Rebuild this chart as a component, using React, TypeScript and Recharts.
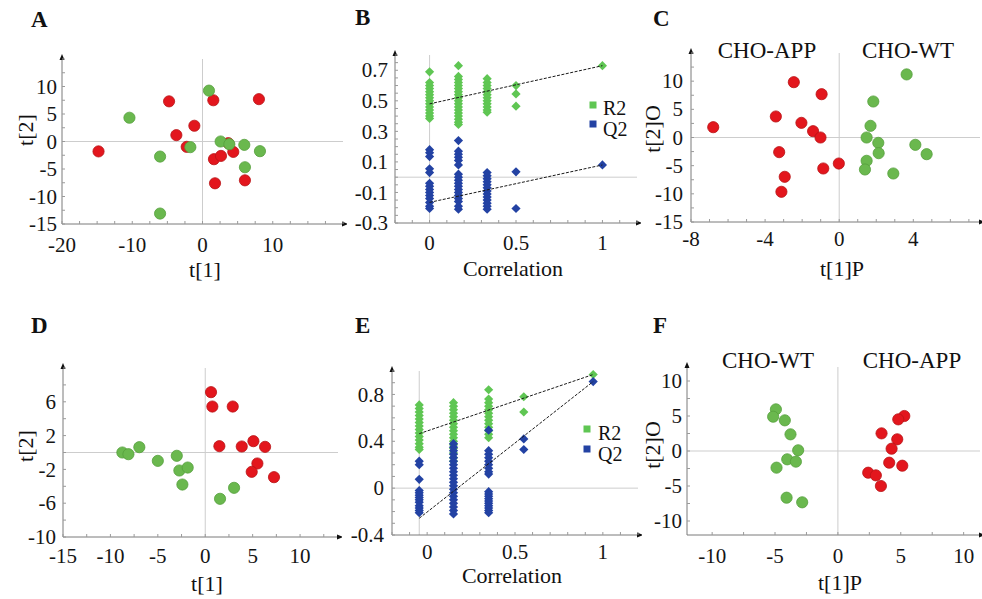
import React from 'react';
import { ReferenceDot, ReferenceLine, Scatter, ScatterChart, XAxis, YAxis } from 'recharts';

const FONT = '"Liberation Serif", "DejaVu Serif", "Times New Roman", serif';
const RED = '#e3161d';
const RED_EDGE = '#b81416';
const GREEN = '#6ab84e';
const GREEN_EDGE = '#56a03c';
const R2_GREEN = '#5fc653';
const Q2_BLUE = '#2342a3';

type Pt = { x: number; y: number };

// A - PCA scores, all samples
const scoresA_APP: Pt[] = [
    { x: -14.8, y: -1.8 }, { x: -4.76, y: 7.3 }, { x: 1.54, y: 7.5 }, { x: 8.03, y: 7.7 },
    { x: -1.16, y: 2.86 }, { x: -3.72, y: 1.16 }, { x: -2.25, y: -0.97 }, { x: 1.63, y: -3.22 },
    { x: 2.63, y: -2.62 }, { x: 4.38, y: -1.89 }, { x: 1.78, y: -7.6 }, { x: 6.04, y: -7.06 },
    { x: 3.67, y: -0.3 },
];
const scoresA_WT: Pt[] = [
    { x: -10.4, y: 4.32 }, { x: 0.92, y: 9.25 }, { x: -6.04, y: -2.74 }, { x: -6.04, y: -13.1 },
    { x: -1.73, y: -1.03 }, { x: 2.58, y: 0 }, { x: 3.82, y: -0.49 }, { x: 5.95, y: -0.61 },
    { x: 8.18, y: -1.76 }, { x: 6.04, y: -4.68 },
];
const ticksA_x = [-20, -10, 0, 10];
const ticksA_y = [-15, -10, -5, 0, 5, 10];

// B - permutation test, R2 and Q2 per correlation column
const permB_x = [0, 0.167, 0.333, 0.5, 1];
const permB_R2 = [
    [0.69, 0.62, 0.6, 0.58, 0.56, 0.54, 0.52, 0.5, 0.48, 0.46, 0.44, 0.42, 0.4, 0.385],
    [0.73, 0.66, 0.64, 0.62, 0.6, 0.58, 0.56, 0.54, 0.52, 0.5, 0.48, 0.46, 0.44, 0.42, 0.4, 0.38, 0.36, 0.345],
    [0.645, 0.62, 0.6, 0.58, 0.56, 0.54, 0.52, 0.5, 0.48, 0.46, 0.44, 0.425],
    [0.6, 0.545, 0.465],
    [0.73],
];
const permB_Q2 = [
    [0.18, 0.16, 0.135, 0.055, 0.03, -0.04, -0.06, -0.08, -0.1, -0.12, -0.14, -0.165, -0.19, -0.205],
    [0.24, 0.17, 0.15, 0.13, 0.11, 0.08, 0.02, 0, -0.02, -0.04, -0.06, -0.08, -0.1, -0.12, -0.14, -0.16, -0.19, -0.21],
    [0.03, 0.01, -0.01, -0.03, -0.05, -0.07, -0.09, -0.11, -0.13, -0.15, -0.17, -0.19, -0.21],
    [0.035, -0.205],
    [0.08],
];
const fitB_R2: Pt[] = [{ x: 0, y: 0.48 }, { x: 1, y: 0.73 }];
const fitB_Q2: Pt[] = [{ x: 0, y: -0.165 }, { x: 1, y: 0.08 }];
const ticksB_x = [0, 0.5, 1];
const ticksB_y = [-0.3, -0.1, 0.1, 0.3, 0.5, 0.7];

// C - OPLS-DA scores
const scoresC_APP: Pt[] = [
    { x: -6.8, y: 1.83 }, { x: -2.45, y: 9.82 }, { x: -0.95, y: 7.69 }, { x: -3.42, y: 3.73 },
    { x: -2.04, y: 2.6 }, { x: -1.41, y: 1.12 }, { x: -1.01, y: 0 }, { x: -3.24, y: -2.6 },
    { x: -2.94, y: -6.98 }, { x: -3.12, y: -9.64 }, { x: -0.86, y: -5.5 }, { x: -0.02, y: -4.62 },
];
const scoresC_WT: Pt[] = [
    { x: 3.64, y: 11.2 }, { x: 1.84, y: 6.39 }, { x: 1.69, y: 2.07 }, { x: 1.48, y: 0 },
    { x: 2.11, y: -0.95 }, { x: 2.13, y: -2.78 }, { x: 4.11, y: -1.3 }, { x: 4.72, y: -2.96 },
    { x: 1.48, y: -4.14 }, { x: 1.39, y: -5.68 }, { x: 2.92, y: -6.39 },
];
const ticksC_x = [-8, -4, 0, 4];
const ticksC_y = [-15, -10, -5, 0, 5, 10];

// D - PCA scores, second set
const scoresD_APP: Pt[] = [
    { x: 0.61, y: 7.14 }, { x: 0.75, y: 5.44 }, { x: 2.9, y: 5.44 }, { x: 1.49, y: 0.75 },
    { x: 3.85, y: 0.71 }, { x: 5.08, y: 1.34 }, { x: 6.31, y: 0.67 }, { x: 5.5, y: -1.3 },
    { x: 4.9, y: -2.29 }, { x: 7.25, y: -2.92 },
];
const scoresD_WT: Pt[] = [
    { x: -8.74, y: 0 }, { x: -8.1, y: -0.2 }, { x: -6.95, y: 0.63 }, { x: -5.0, y: -0.99 },
    { x: -3.0, y: -0.39 }, { x: -2.73, y: -2.13 }, { x: -1.85, y: -1.78 }, { x: -2.41, y: -3.79 },
    { x: 3.04, y: -4.18 }, { x: 1.56, y: -5.48 },
];
const ticksD_x = [-15, -10, -5, 0, 5, 10];
const ticksD_y = [-10, -6, -2, 2, 6];

// E - permutation test, second set
const permE_x = [-0.045, 0.15, 0.35, 0.55, 0.945];
const permE_R2 = [
    [0.71, 0.68, 0.65, 0.62, 0.59, 0.56, 0.53, 0.5, 0.47, 0.44, 0.41, 0.38, 0.35, 0.33],
    [0.73, 0.7, 0.67, 0.64, 0.61, 0.58, 0.55, 0.52, 0.49, 0.46, 0.43, 0.4, 0.37, 0.34, 0.3, 0.26, 0.23],
    [0.84, 0.76, 0.73, 0.7, 0.67, 0.64, 0.61, 0.58, 0.55, 0.52, 0.49, 0.46, 0.43],
    [0.78, 0.65],
    [0.97],
];
const permE_Q2 = [
    [0.23, 0.2, 0.075, -0.02, -0.04, -0.06, -0.08, -0.1, -0.12, -0.15, -0.17, -0.19, -0.21],
    [0.38, 0.35, 0.32, 0.29, 0.26, 0.23, 0.2, 0.17, 0.14, 0.11, 0.08, 0.05, 0.02, -0.01, -0.04, -0.07, -0.1, -0.13, -0.16, -0.19, -0.22],
    [0.495, 0.32, 0.29, 0.26, 0.23, 0.2, 0.17, 0.14, 0.12, -0.03, -0.05, -0.07, -0.09, -0.11, -0.13, -0.15, -0.17, -0.19, -0.21],
    [0.42, 0.33],
    [0.91],
];
const fitE_R2: Pt[] = [{ x: -0.045, y: 0.465 }, { x: 0.945, y: 0.97 }];
const fitE_Q2: Pt[] = [{ x: -0.045, y: -0.257 }, { x: 0.945, y: 0.91 }];
const ticksE_x = [0, 0.5, 1];
const ticksE_y = [-0.4, 0, 0.4, 0.8];

// F - OPLS-DA scores, second set
const scoresF_WT: Pt[] = [
    { x: -4.93, y: 5.95 }, { x: -5.15, y: 4.9 }, { x: -4.22, y: 4.38 }, { x: -3.77, y: 2.38 },
    { x: -3.16, y: 0.1 }, { x: -4.03, y: -1.19 }, { x: -3.34, y: -1.52 }, { x: -4.88, y: -2.38 },
    { x: -4.08, y: -6.67 }, { x: -2.84, y: -7.33 },
];
const scoresF_APP: Pt[] = [
    { x: 5.28, y: 5.0 }, { x: 4.8, y: 4.52 }, { x: 3.47, y: 2.52 }, { x: 4.72, y: 1.67 },
    { x: 4.27, y: 0.33 }, { x: 4.08, y: -1.67 }, { x: 5.12, y: -2.1 }, { x: 2.41, y: -3.1 },
    { x: 3.02, y: -3.48 }, { x: 3.42, y: -5.0 },
];
const ticksF_x = [-10, -5, 0, 5, 10];
const ticksF_y = [-10, -5, 0, 5, 10];

const columns = (xs: number[], ys: number[][]): Pt[] => xs.flatMap((x, i) => ys[i].map((y) => ({ x, y })));

// major ticks plus small unlabelled ones in between
const withMinor = (domain: number[], step: number, major: number[]) => {
    const out = [...major];
    const start = Math.ceil(domain[0] / step - 1e-9);
    const end = Math.floor(domain[1] / step + 1e-9);
    for (let k = start; k <= end; k++) {
        const v = +(k * step).toFixed(6);
        if (!out.some((m) => Math.abs(m - v) < 1e-6)) out.push(v);
    }
    return out.sort((a, b) => a - b);
};

const isMajor = (major: number[], v: number) => major.some((m) => Math.abs(m - v) < 1e-6);

type SeriesCfg = { data: Pt[]; kind: 'circle' | 'diamond'; fill: string; stroke?: string };

type PanelCfg = {
    left: number;
    top: number;
    width: number;
    height: number;
    xDomain: [number, number];
    yDomain: [number, number];
    xTicks: number[];
    yTicks: number[];
    xMinor: number;
    yMinor: number;
    xZero: number;
    series: SeriesCfg[];
    fits?: Pt[][];
    tickDy: number;
    yGap: number;
};

const Circle = (fill: string, stroke?: string) => (p: any) => (
    <circle cx={p.cx} cy={p.cy} r={5.6} fill={fill} stroke={stroke} strokeWidth={0.8} />
);
const Diamond = (fill: string) => (p: any) => (
    <path d={`M${p.cx},${p.cy - 4.6} L${p.cx + 4.6},${p.cy} L${p.cx},${p.cy + 4.6} L${p.cx - 4.6},${p.cy} Z`} fill={fill} />
);

const YW = 60;
const XH = 40;
const MARGIN = { top: 12, right: 4, bottom: 0, left: 0 };

const Panel = ({ cfg }: { cfg: PanelCfg }) => {
    const { xDomain, yDomain, xTicks, yTicks } = cfg;
    const chartW = MARGIN.left + YW + cfg.width + MARGIN.right;
    const chartH = MARGIN.top + cfg.height + XH + MARGIN.bottom;

    const xTick = (p: any) => {
        const v = p.payload.value;
        return (
            <g>
                <line x1={p.x} x2={p.x} y1={p.y} y2={p.y - 3} stroke="#9a9a9a" />
                {isMajor(xTicks, v) && (
                    <text x={p.x} y={p.y + cfg.tickDy} textAnchor="middle" fontSize={21} fontFamily={FONT} fill="#151515">
                        {v}
                    </text>
                )}
            </g>
        );
    };
    const yTick = (p: any) => {
        const v = p.payload.value;
        return (
            <g>
                <line x1={p.x} x2={p.x + 3} y1={p.y} y2={p.y} stroke="#9a9a9a" />
                {isMajor(yTicks, v) && (
                    <text x={p.x - cfg.yGap} y={p.y} dy="0.34em" textAnchor="end" fontSize={21} fontFamily={FONT} fill="#151515">
                        {v}
                    </text>
                )}
            </g>
        );
    };

    return (
        <div style={{ position: 'absolute', left: cfg.left - YW - MARGIN.left, top: cfg.top - MARGIN.top }}>
            <ScatterChart width={chartW} height={chartH} margin={MARGIN}>
                <XAxis
                    type="number"
                    dataKey="x"
                    domain={xDomain}
                    ticks={withMinor(xDomain, cfg.xMinor, xTicks)}
                    interval={0}
                    tickSize={0}
                    tickMargin={0}
                    tickLine={false}
                    tick={xTick}
                    height={XH}
                    axisLine={{ stroke: '#7a7a7a' }}
                />
                <YAxis
                    type="number"
                    dataKey="y"
                    domain={yDomain}
                    ticks={withMinor(yDomain, cfg.yMinor, yTicks)}
                    interval={0}
                    tickSize={0}
                    tickMargin={0}
                    tickLine={false}
                    tick={yTick}
                    width={YW}
                    axisLine={{ stroke: '#7a7a7a' }}
                />
                <ReferenceLine x={cfg.xZero} stroke="#cdcdcd" />
                <ReferenceLine y={0} stroke="#cdcdcd" />
                {cfg.series.map((s, i) => (
                    <Scatter
                        key={`s-${i}`}
                        data={s.data}
                        isAnimationActive={false}
                        shape={s.kind === 'circle' ? Circle(s.fill, s.stroke) : Diamond(s.fill)}
                    />
                ))}
                {(cfg.fits || []).map((f, i) => (
                    <Scatter
                        key={`f-${i}`}
                        data={f}
                        isAnimationActive={false}
                        line={{ stroke: '#1a1a1a', strokeWidth: 1, strokeDasharray: '3 1.5' }}
                        shape={() => <g />}
                    />
                ))}
                <ReferenceDot
                    x={xDomain[1]}
                    y={yDomain[0]}
                    ifOverflow="visible"
                    shape={(p: any) => (
                        <path d={`M${p.cx + 5},${p.cy} L${p.cx - 1},${p.cy - 2.5} L${p.cx - 1},${p.cy + 2.5} Z`} fill="#111" />
                    )}
                />
                <ReferenceDot
                    x={xDomain[0]}
                    y={yDomain[1]}
                    ifOverflow="visible"
                    shape={(p: any) => (
                        <path d={`M${p.cx},${p.cy - 5} L${p.cx - 2.5},${p.cy + 1} L${p.cx + 2.5},${p.cy + 1} Z`} fill="#111" />
                    )}
                />
            </ScatterChart>
        </div>
    );
};

const panels: PanelCfg[] = [
    {
        left: 62, top: 59, width: 281, height: 165,
        xDomain: [-20, 20], yDomain: [-15, 15], xTicks: ticksA_x, yTicks: ticksA_y, xMinor: 2.5, yMinor: 2.5, xZero: 0,
        series: [
            { data: scoresA_APP, kind: 'circle', fill: RED, stroke: RED_EDGE },
            { data: scoresA_WT, kind: 'circle', fill: GREEN, stroke: GREEN_EDGE },
        ],
        tickDy: 28, yGap: 5,
    },
    {
        left: 395, top: 55, width: 242, height: 168,
        xDomain: [-0.2, 1.2], yDomain: [-0.3, 0.8], xTicks: ticksB_x, yTicks: ticksB_y, xMinor: 0.1, yMinor: 0.05, xZero: 0,
        series: [
            { data: columns(permB_x, permB_R2), kind: 'diamond', fill: R2_GREEN },
            { data: columns(permB_x, permB_Q2), kind: 'diamond', fill: Q2_BLUE },
        ],
        fits: [fitB_R2, fitB_Q2],
        tickDy: 27, yGap: 7,
    },
    {
        left: 691, top: 53, width: 289, height: 169,
        xDomain: [-8, 7.6], yDomain: [-15, 15], xTicks: ticksC_x, yTicks: ticksC_y, xMinor: 1, yMinor: 2.5, xZero: 0,
        series: [
            { data: scoresC_APP, kind: 'circle', fill: RED, stroke: RED_EDGE },
            { data: scoresC_WT, kind: 'circle', fill: GREEN, stroke: GREEN_EDGE },
        ],
        tickDy: 24, yGap: 8,
    },
    {
        left: 63, top: 368, width: 275, height: 169,
        xDomain: [-15, 14], yDomain: [-10, 10], xTicks: ticksD_x, yTicks: ticksD_y, xMinor: 2.5, yMinor: 2, xZero: 0,
        series: [
            { data: scoresD_APP, kind: 'circle', fill: RED, stroke: RED_EDGE },
            { data: scoresD_WT, kind: 'circle', fill: GREEN, stroke: GREEN_EDGE },
        ],
        tickDy: 26, yGap: 7,
    },
    {
        left: 392, top: 371, width: 246, height: 164,
        xDomain: [-0.2, 1.2], yDomain: [-0.4, 1.0], xTicks: ticksE_x, yTicks: ticksE_y, xMinor: 0.1, yMinor: 0.1, xZero: -0.045,
        series: [
            { data: columns(permE_x, permE_R2), kind: 'diamond', fill: R2_GREEN },
            { data: columns(permE_x, permE_Q2), kind: 'diamond', fill: Q2_BLUE },
        ],
        fits: [fitE_R2, fitE_Q2],
        tickDy: 24, yGap: 8,
    },
    {
        left: 687, top: 367, width: 293, height: 168,
        xDomain: [-12, 11.3], yDomain: [-12, 12], xTicks: ticksF_x, yTicks: ticksF_y, xMinor: 2.5, yMinor: 2.5, xZero: 0,
        series: [
            { data: scoresF_WT, kind: 'circle', fill: GREEN, stroke: GREEN_EDGE },
            { data: scoresF_APP, kind: 'circle', fill: RED, stroke: RED_EDGE },
        ],
        tickDy: 28, yGap: 5,
    },
];

type Txt = { t: string; x: number; y: number; size: number; bold?: boolean; anchor?: 'start' | 'middle' | 'end'; rotate?: boolean };

const texts: Txt[] = [
    { t: 'A', x: 31, y: 27, size: 23, bold: true },
    { t: 'B', x: 355, y: 25, size: 23, bold: true },
    { t: 'C', x: 653, y: 26, size: 23, bold: true },
    { t: 'D', x: 31, y: 333, size: 23, bold: true },
    { t: 'E', x: 355, y: 333, size: 23, bold: true },
    { t: 'F', x: 653, y: 333, size: 23, bold: true },
    { t: 't[1]', x: 205, y: 277, size: 22, anchor: 'middle' },
    { t: 'Correlation', x: 513, y: 276, size: 22, anchor: 'middle' },
    { t: 't[1]P', x: 842, y: 276, size: 22, anchor: 'middle' },
    { t: 't[1]', x: 207, y: 591, size: 22, anchor: 'middle' },
    { t: 'Correlation', x: 512, y: 583, size: 22, anchor: 'middle' },
    { t: 't[1]P', x: 840, y: 590, size: 22, anchor: 'middle' },
    { t: 't[2]', x: 25, y: 130, size: 22, anchor: 'middle', rotate: true },
    { t: 't[2]', x: 25, y: 446, size: 22, anchor: 'middle', rotate: true },
    { t: 't[2]O', x: 652, y: 129, size: 22, anchor: 'middle', rotate: true },
    { t: 't[2]O', x: 652, y: 445, size: 22, anchor: 'middle', rotate: true },
    { t: 'CHO-APP', x: 767, y: 58, size: 23, anchor: 'middle' },
    { t: 'CHO-WT', x: 908, y: 58, size: 23, anchor: 'middle' },
    { t: 'CHO-WT', x: 768, y: 368, size: 23, anchor: 'middle' },
    { t: 'CHO-APP', x: 912, y: 368, size: 23, anchor: 'middle' },
    { t: 'R2', x: 603, y: 115, size: 20 },
    { t: 'Q2', x: 603, y: 136, size: 20 },
    { t: 'R2', x: 598, y: 440, size: 20 },
    { t: 'Q2', x: 598, y: 461, size: 20 },
];

// legend swatches: [x, y, color]
const swatches: [number, number, string][] = [
    [593, 105, R2_GREEN],
    [593, 124, Q2_BLUE],
    [587, 429, R2_GREEN],
    [587, 449, Q2_BLUE],
];

export default function App() {
    return (
        <div style={{ position: 'absolute', left: 0, top: 0, width: 982, height: 599, overflow: 'hidden', background: '#fff' }}>
            {panels.map((cfg, i) => (
                <Panel key={`p-${i}`} cfg={cfg} />
            ))}
            <svg width={982} height={599} style={{ position: 'absolute', left: 0, top: 0, pointerEvents: 'none' }}>
                {swatches.map(([x, y, c], i) => (
                    <rect key={`sw-${i}`} x={x - 3.5} y={y - 3.5} width={7} height={7} fill={c} />
                ))}
                {texts.map((d, i) => (
                    <text
                        key={`t-${i}`}
                        x={d.x}
                        y={d.y}
                        fontSize={d.size}
                        fontFamily={FONT}
                        fontWeight={d.bold ? 'bold' : 'normal'}
                        textAnchor={d.anchor || 'start'}
                        dominantBaseline={d.rotate ? 'central' : undefined}
                        transform={d.rotate ? `rotate(-90, ${d.x}, ${d.y})` : undefined}
                        fill="#111"
                    >
                        {d.t}
                    </text>
                ))}
            </svg>
        </div>
    );
}
